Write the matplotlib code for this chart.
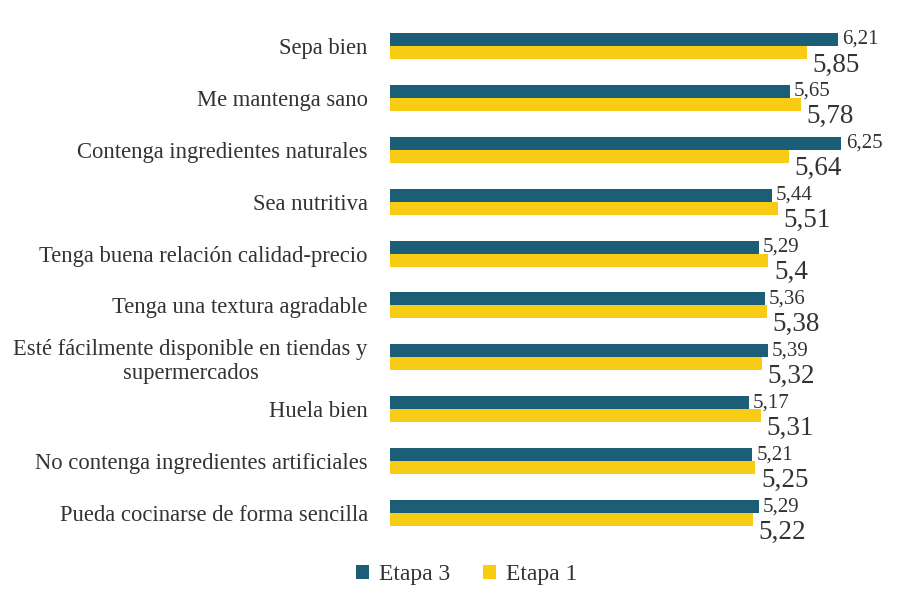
import matplotlib
matplotlib.use("Agg")
import matplotlib.pyplot as plt
import numpy as np

categories = [
    "Sepa bien",
    "Me mantenga sano",
    "Contenga ingredientes naturales",
    "Sea nutritiva",
    "Tenga buena relación calidad-precio",
    "Tenga una textura agradable",
    "Esté fácilmente disponible en tiendas y\nsupermercados",
    "Huela bien",
    "No contenga ingredientes artificiales",
    "Pueda cocinarse de forma sencilla",
]
etapa3 = [6.21, 5.65, 6.25, 5.44, 5.29, 5.36, 5.39, 5.17, 5.21, 5.29]
etapa1 = [5.85, 5.78, 5.64, 5.51, 5.40, 5.38, 5.32, 5.31, 5.25, 5.22]
series_names = ["Etapa 3", "Etapa 1"]

teal = "#1c5d78"
yellow = "#f8cb14"
text_color = "#333333"

plt.rcParams["font.family"] = ["Liberation Serif", "DejaVu Serif"]

fig = plt.figure(figsize=(9.15, 5.96), dpi=100)
ax = fig.add_axes([390 / 915, 1 - 539 / 596, 516 / 915, 519 / 596])

y = np.arange(len(categories))
h = 0.25
ax.barh(y - h / 2, etapa3, height=h, left=0, color=teal, label=series_names[0])
ax.barh(y + h / 2, etapa1, height=h, left=0, color=yellow, label=series_names[1])

ax.set_xlim(1, 7)
ax.set_ylim(len(categories) - 0.5, -0.5)


def fmt(v):
    s = f"{v:.2f}".rstrip("0").rstrip(".")
    return s.replace(".", ",")


for yi, v in zip(y, etapa3):
    ax.annotate(fmt(v), (v, yi - h / 2), xytext=(3, 0), textcoords="offset points",
                ha="left", va="center", fontsize=15, color=text_color)
for yi, v in zip(y, etapa1):
    ax.annotate(fmt(v), (v, yi + h / 2), xytext=(4, -9), textcoords="offset points",
                ha="left", va="center", fontsize=19.5, color=text_color)

ax.set_yticks(y)
ax.set_yticklabels(categories, fontsize=16.3, color=text_color, multialignment="center")
ax.tick_params(axis="y", length=0, pad=16)
ax.set_xticks([])
for s in ax.spines.values():
    s.set_visible(False)

leg = fig.legend(loc="lower center", bbox_to_anchor=(0.51, -0.018), ncol=2, frameon=False,
                 fontsize=17, handlelength=0.55, handleheight=0.55, handletextpad=0.4,
                 columnspacing=1.4, labelcolor=text_color)

fig.savefig("out.png", dpi=100, facecolor="white")
